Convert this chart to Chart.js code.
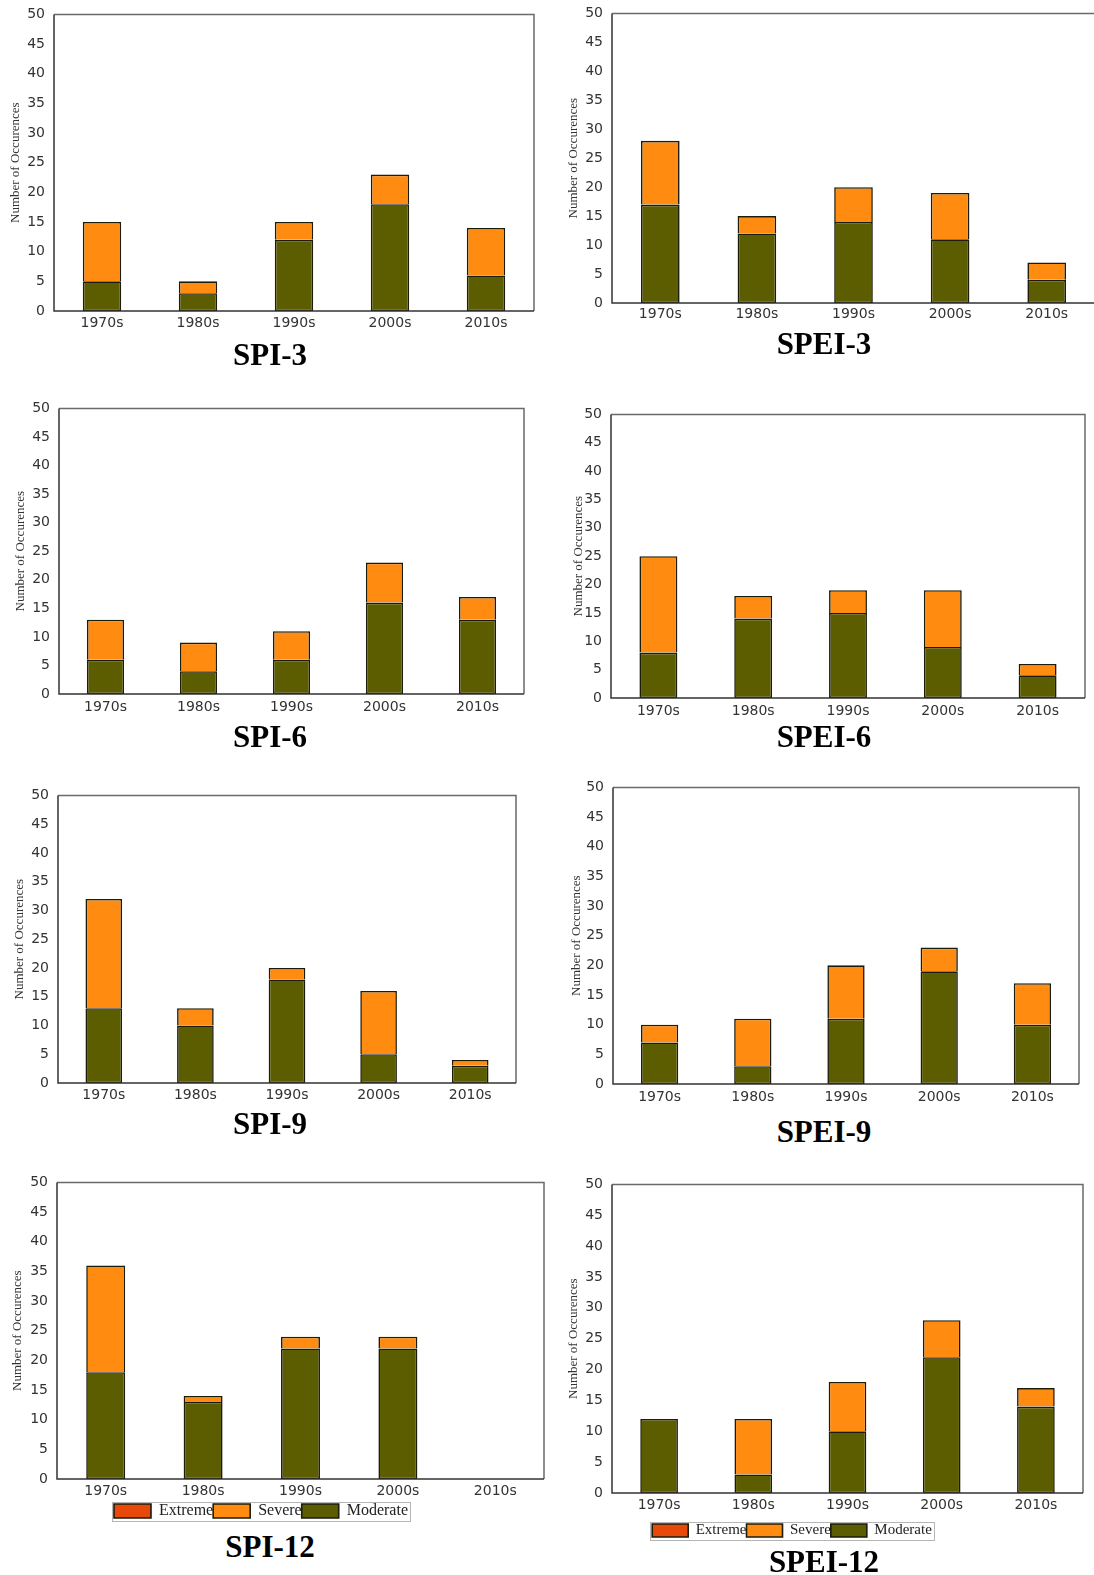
<!DOCTYPE html>
<html>
<head>
<meta charset="utf-8">
<title>Drought occurrences by decade</title>
<script src="https://cdn.jsdelivr.net/npm/chart.js@4/dist/chart.umd.min.js"></script>
<style>
  html, body { margin: 0; padding: 0; background: #ffffff; }
  body { position: relative; width: 1094px; height: 1575px; overflow: hidden; }
  canvas { position: absolute; }
  .panel-title {
    position: absolute; width: 300px; margin-left: -150px; text-align: center;
    font: bold 31px "Liberation Serif", "Times New Roman", serif; line-height: 31px; color: #000;
  }
</style>
</head>
<body>
<script>
// ---- data ---------------------------------------------------------------
const decades = ['1970s', '1980s', '1990s', '2000s', '2010s'];
const classLabels = ['Moderate', 'Severe', 'Extreme'];   // stacking order, bottom to top
const yMin = 0, yMax = 50, yStep = 5;
const yAxisTitle = 'Number of Occurences';

const spi3Moderate   = [5, 3, 12, 18, 6];
const spi3Severe     = [10, 2, 3, 5, 8];
const spi3Extreme    = [0, 0, 0, 0, 0];

const spei3Moderate  = [17, 12, 14, 11, 4];
const spei3Severe    = [11, 3, 6, 8, 3];
const spei3Extreme   = [0, 0, 0, 0, 0];

const spi6Moderate   = [6, 4, 6, 16, 13];
const spi6Severe     = [7, 5, 5, 7, 4];
const spi6Extreme    = [0, 0, 0, 0, 0];

const spei6Moderate  = [8, 14, 15, 9, 4];
const spei6Severe    = [17, 4, 4, 10, 2];
const spei6Extreme   = [0, 0, 0, 0, 0];

const spi9Moderate   = [13, 10, 18, 5, 3];
const spi9Severe     = [19, 3, 2, 11, 1];
const spi9Extreme    = [0, 0, 0, 0, 0];

const spei9Moderate  = [7, 3, 11, 19, 10];
const spei9Severe    = [3, 8, 9, 4, 7];
const spei9Extreme   = [0, 0, 0, 0, 0];

const spi12Moderate  = [18, 13, 22, 22, 0];
const spi12Severe    = [18, 1, 2, 2, 0];
const spi12Extreme   = [0, 0, 0, 0, 0];

const spei12Moderate = [12, 3, 10, 22, 14];
const spei12Severe   = [0, 9, 8, 6, 3];
const spei12Extreme  = [0, 0, 0, 0, 0];

const panels = [
  { title: 'SPI-3',   series: [spi3Moderate,   spi3Severe,   spi3Extreme] },
  { title: 'SPEI-3',  series: [spei3Moderate,  spei3Severe,  spei3Extreme] },
  { title: 'SPI-6',   series: [spi6Moderate,   spi6Severe,   spi6Extreme] },
  { title: 'SPEI-6',  series: [spei6Moderate,  spei6Severe,  spei6Extreme] },
  { title: 'SPI-9',   series: [spi9Moderate,   spi9Severe,   spi9Extreme] },
  { title: 'SPEI-9',  series: [spei9Moderate,  spei9Severe,  spei9Extreme] },
  { title: 'SPI-12',  series: [spi12Moderate,  spi12Severe,  spi12Extreme] },
  { title: 'SPEI-12', series: [spei12Moderate, spei12Severe, spei12Extreme] }
];

// ---- styles & page layout --------------------------------------------------
const fills = { Moderate: '#5c5d00', Severe: '#ff8c10', Extreme: '#e8480a' };

// plot-area rectangle of each panel in page pixels, plus title / label offsets
const geometry = [
  { x0: 0,   left: 54,  top: 14,   right: 534,  bottom: 311,  titleX: 270, titleY: 354,  yTitleX: 15.5, xLabelOff: 12,   xAxisH: 30 },
  { x0: 560, left: 612, top: 13,   right: 1095, bottom: 303,  titleX: 824, titleY: 343,  yTitleX: 13.3, xLabelOff: 11,   xAxisH: 30 },
  { x0: 0,   left: 59,  top: 408,  right: 524,  bottom: 694,  titleX: 270, titleY: 736,  yTitleX: 21,   xLabelOff: 13,   xAxisH: 30 },
  { x0: 560, left: 611, top: 414,  right: 1085, bottom: 698,  titleX: 824, titleY: 736,  yTitleX: 18.8, xLabelOff: 13,   xAxisH: 30 },
  { x0: 0,   left: 58,  top: 795,  right: 516,  bottom: 1083, titleX: 270, titleY: 1123, yTitleX: 19.7, xLabelOff: 12,   xAxisH: 30 },
  { x0: 560, left: 613, top: 787,  right: 1079, bottom: 1084, titleX: 824, titleY: 1131, yTitleX: 16.7, xLabelOff: 13.5, xAxisH: 30 },
  { x0: 0,   left: 57,  top: 1182, right: 544,  bottom: 1479, titleX: 270, titleY: 1546, yTitleX: 17.5, xLabelOff: 12.5, xAxisH: 24,
    legend: { cx: 261, font: 16, box: 37, boxH: 14 } },
  { x0: 560, left: 612, top: 1184, right: 1083, bottom: 1493, titleX: 824, titleY: 1561, yTitleX: 14,   xLabelOff: 12.5, xAxisH: 30,
    legend: { cx: 792, font: 15, box: 36, boxH: 13 } }
];

Chart.defaults.font.family = '"DejaVu Sans", sans-serif';
Chart.defaults.color = '#333';

// frame around the plot area: dark axes on the left/bottom, grey on top/right
const plotFrame = {
  id: 'plotFrame',
  afterDatasetsDraw(chart) {
    const { ctx, chartArea: { left, top, right, bottom } } = chart;
    ctx.save();
    ctx.lineWidth = 1.5;
    ctx.strokeStyle = '#6a6a6a';
    ctx.beginPath();
    ctx.moveTo(left, top); ctx.lineTo(right, top); ctx.lineTo(right, bottom);
    ctx.stroke();
    ctx.strokeStyle = '#333333';
    ctx.beginPath();
    ctx.moveTo(left, top); ctx.lineTo(left, bottom); ctx.lineTo(right, bottom);
    ctx.stroke();
    ctx.restore();
  }
};

function legendPlugins(g) {
  return [{
    id: 'legendPlace',
    // centre the legend row at a fixed x instead of the canvas middle
    afterLayout(chart) {
      const lg = chart.legend;
      if (!lg || !g.legend) return;
      const want = chart.chartArea.left + (g.legend.cx - g.left);
      const dx = want - (lg.left + lg.right) / 2;
      lg.left += dx; lg.right += dx;
    },
    // thin grey box around the legend entries
    afterDraw(chart) {
      const lg = chart.legend;
      if (!lg || !g.legend || !lg.legendHitBoxes || !lg.legendHitBoxes.length) return;
      const hb = lg.legendHitBoxes;
      const first = hb[0], last = hb[hb.length - 1];
      const x1 = first.left - 2, x2 = last.left + last.width + 2;
      const y1 = first.top - 1.5, y2 = first.top + first.height + 1.5;
      const ctx = chart.ctx;
      ctx.save();
      ctx.strokeStyle = '#b5b5b5';
      ctx.lineWidth = 1;
      ctx.strokeRect(Math.round(x1) + 0.5, Math.round(y1) + 0.5, Math.round(x2 - x1), Math.round(y2 - y1));
      ctx.restore();
    }
  }];
}

function buildPanel(p, g) {
  const padTop = 12, padRight = 3;
  const legendH = g.legend ? Math.max(g.legend.font, g.legend.boxH) + 10 : 0;
  const canvas = document.createElement('canvas');
  canvas.width = g.right - g.x0 + padRight;
  canvas.height = g.bottom - g.top + padTop + g.xAxisH + legendH;
  canvas.style.left = g.x0 + 'px';
  canvas.style.top = (g.top - padTop) + 'px';
  document.body.appendChild(canvas);

  // the lowest segment gets a full outline; upper segments reuse its top edge
  const datasets = classLabels.map((name, i) => ({
    label: name,
    data: p.series[i],
    backgroundColor: fills[name],
    borderColor: '#1c1c0a',
    borderWidth: 1.6,
    borderSkipped: i === 0 ? false : 'start',
    inflateAmount: 0,
    barPercentage: 0.4,
    categoryPercentage: 1.0
  }));

  const legendOpts = g.legend ? {
    display: true,
    position: 'bottom',
    reverse: true,
    labels: {
      boxWidth: g.legend.box,
      boxHeight: g.legend.boxH,
      padding: 0,
      color: '#222',
      font: { family: '"Liberation Serif", "Times New Roman", serif', size: g.legend.font }
    }
  } : { display: false };

  const chart = new Chart(canvas, {
    type: 'bar',
    data: { labels: decades, datasets },
    options: {
      responsive: false,
      maintainAspectRatio: false,
      animation: false,
      devicePixelRatio: 1,
      layout: { padding: { top: padTop, right: padRight, left: 0, bottom: 0 } },
      plugins: { legend: legendOpts, tooltip: { enabled: false }, title: { display: false } },
      scales: {
        x: {
          stacked: true,
          grid: { display: false, drawTicks: false },
          border: { display: false },
          ticks: { padding: g.xLabelOff - 8.4, color: '#333', font: { size: 14 }, maxRotation: 0 },
          afterFit(s) { s.height = g.xAxisH; }
        },
        y: {
          stacked: true,
          min: yMin,
          max: yMax,
          grid: { display: false, drawTicks: false },
          border: { display: false },
          ticks: { stepSize: yStep, padding: 9, color: '#333', font: { size: 14 } },
          title: {
            display: true,
            text: yAxisTitle,
            color: '#333',
            font: { family: '"Liberation Serif", "Times New Roman", serif', size: 13 },
            padding: { top: g.yTitleX - 7.8, bottom: 0 }
          },
          afterFit(s) { s.width = g.left - g.x0; }
        }
      }
    },
    plugins: [plotFrame].concat(legendPlugins(g))
  });

  // pin the plot area to its place on the page
  const a = chart.chartArea;
  const dw = Math.round((g.right - g.left) - (a.right - a.left));
  const dh = Math.round((g.bottom - g.top) - (a.bottom - a.top));
  if (dw || dh) chart.resize(chart.width + dw, chart.height + dh);
  const b = chart.chartArea;
  canvas.style.left = Math.round(g.left - b.left) + 'px';
  canvas.style.top = Math.round(g.top - b.top) + 'px';

  const t = document.createElement('div');
  t.className = 'panel-title';
  t.textContent = p.title;
  t.style.left = g.titleX + 'px';
  t.style.top = (g.titleY - 15.5) + 'px';
  document.body.appendChild(t);
}

panels.forEach((p, i) => buildPanel(p, geometry[i]));
</script>
</body>
</html>
